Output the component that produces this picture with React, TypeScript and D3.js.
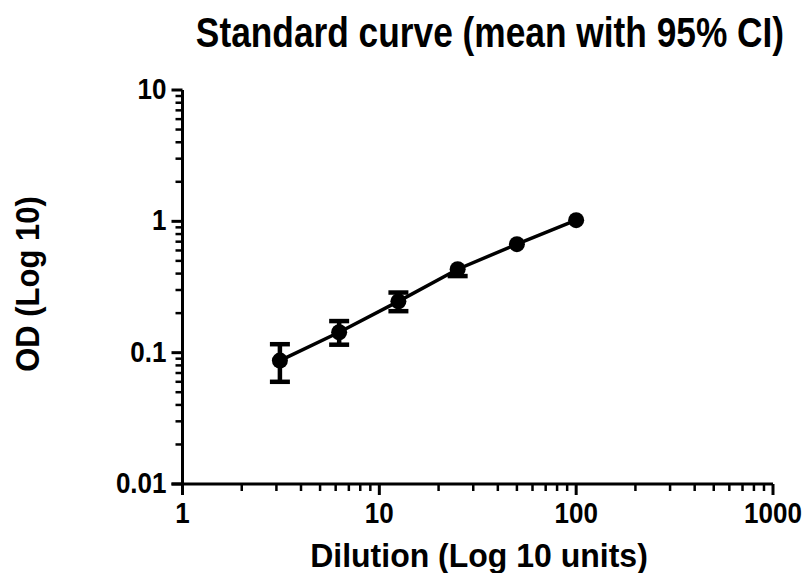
import React from "react";
import * as d3 from "d3";

const dilution = [3.125, 6.25, 12.5, 25, 50, 100];
const meanOD = [0.087, 0.143, 0.246, 0.432, 0.67, 1.02];
const lowerCI = [0.06, 0.115, 0.207, 0.383, 0.645, 0.99];
const upperCI = [0.116, 0.174, 0.287, 0.47, 0.695, 1.05];
const xTickLabels = ["1", "10", "100", "1000"];
const yTickLabels = ["0.01", "0.1", "1", "10"];
const xMajor = [1, 10, 100, 1000];
const yMajor = [0.01, 0.1, 1, 10];

const W = 809;
const H = 573;
const FONT = "'Liberation Sans', Arial, Helvetica, sans-serif";

export default function App() {
  const x = d3.scaleLog().domain([1, 1000]).range([182.5, 773]);
  const y = d3.scaleLog().domain([0.01, 10]).range([484, 90]);

  const minorX: number[] = [];
  xMajor.slice(0, -1).forEach((m) => {
    for (let k = 2; k <= 9; k++) minorX.push(m * k);
  });
  const minorY: number[] = [];
  yMajor.slice(0, -1).forEach((m) => {
    for (let k = 2; k <= 9; k++) minorY.push(m * k);
  });

  const pts = dilution.map((d, i) => ({ d, m: meanOD[i], lo: lowerCI[i], hi: upperCI[i] }));
  const line = d3
    .line<{ d: number; m: number }>()
    .x((p) => x(p.d))
    .y((p) => y(p.m));

  const x0 = x(1);
  const y0 = y(0.01);
  const major = 11;
  const minor = 7;
  const R = 8;

  return (
    <svg
      width={W}
      height={H}
      style={{ position: "absolute", left: 0, top: 0, background: "#fff" }}
      fontFamily={FONT}
      fontWeight="bold"
    >
      <rect width={W} height={H} fill="#fff" />
      {/* Title */}
      <text transform="translate(490,47) scale(1,1.22)" textAnchor="middle" fontSize={35.3} fill="#000">
        Standard curve (mean with 95% CI)
      </text>

      {/* Y axis */}
      <line x1={x0} x2={x0} y1={y(10)} y2={y0 + major} stroke="#000" strokeWidth={3} />
      {yMajor.map((v) => (
        <line key={"ym" + v} x1={x0 - major} x2={x0} y1={y(v)} y2={y(v)} stroke="#000" strokeWidth={3} />
      ))}
      {minorY.map((v) => (
        <line key={"yn" + v} x1={x0 - minor} x2={x0} y1={y(v)} y2={y(v)} stroke="#000" strokeWidth={2.5} />
      ))}
      {yMajor.map((v, i) => (
        <text
          key={"yl" + v}
          transform={`translate(${x0 - 16},${y(v) + 9}) scale(1,1.1)`}
          textAnchor="end"
          fontSize={26}
          fill="#000"
        >
          {yTickLabels[i]}
        </text>
      ))}

      {/* X axis */}
      <line x1={x0 - major} x2={x(1000)} y1={y0} y2={y0} stroke="#000" strokeWidth={3} />
      {xMajor.map((v) => (
        <line key={"xm" + v} x1={x(v)} x2={x(v)} y1={y0} y2={y0 + major} stroke="#000" strokeWidth={3} />
      ))}
      {minorX.map((v) => (
        <line key={"xn" + v} x1={x(v)} x2={x(v)} y1={y0} y2={y0 + minor} stroke="#000" strokeWidth={2.5} />
      ))}
      {xMajor.map((v, i) => (
        <text
          key={"xl" + v}
          transform={`translate(${x(v)},523) scale(1,1.1)`}
          textAnchor="middle"
          fontSize={26}
          fill="#000"
        >
          {xTickLabels[i]}
        </text>
      ))}

      {/* Axis titles */}
      <text transform="translate(479,567) scale(1,1.05)" textAnchor="middle" fontSize={32} fill="#000">
        Dilution (Log 10 units)
      </text>
      <text transform="translate(39,284) rotate(-90) scale(1,1.05)" textAnchor="middle" fontSize={31} fill="#000">
        OD (Log 10)
      </text>

      {/* Error bars (each half hidden when shorter than the symbol, as in Prism) */}
      {pts.map((p) => {
        const cx = x(p.d);
        const cy = y(p.m);
        const ylo = y(p.lo);
        const yhi = y(p.hi);
        return (
          <g key={"e" + p.d} stroke="#000" strokeWidth={4.5}>
            {ylo - cy > R - 2 && (
              <>
                <line x1={cx} x2={cx} y1={cy} y2={ylo} />
                <line x1={cx - 10} x2={cx + 10} y1={ylo} y2={ylo} />
              </>
            )}
            {cy - yhi > R - 2 && (
              <>
                <line x1={cx} x2={cx} y1={cy} y2={yhi} />
                <line x1={cx - 10} x2={cx + 10} y1={yhi} y2={yhi} />
              </>
            )}
          </g>
        );
      })}

      {/* Line */}
      <path d={line(pts) || ""} fill="none" stroke="#000" strokeWidth={3.5} />

      {/* Markers */}
      {pts.map((p) => (
        <circle key={"c" + p.d} cx={x(p.d)} cy={y(p.m)} r={R} fill="#000" />
      ))}
    </svg>
  );
}
